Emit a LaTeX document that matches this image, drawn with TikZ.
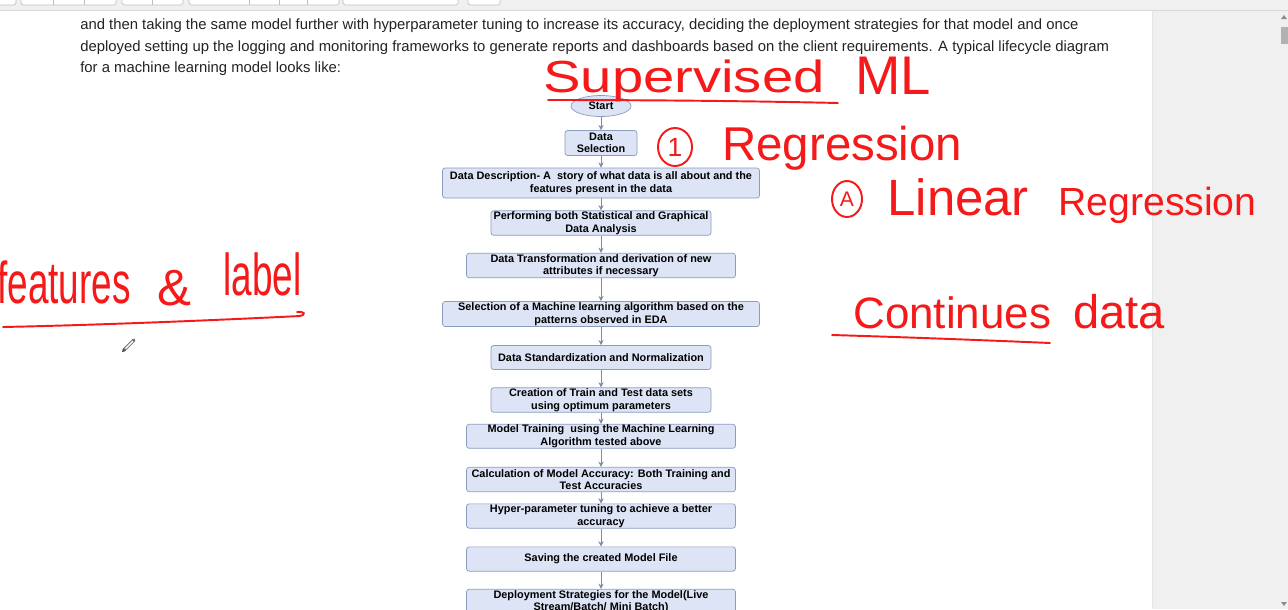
\documentclass[tikz,border=0pt]{standalone}
\usepackage{fontspec}
\setmainfont{Liberation Sans}
\usetikzlibrary{arrows.meta,shapes.geometric}

\definecolor{boxfill}{RGB}{220,228,246}
\definecolor{boxline}{RGB}{140,156,192}
\definecolor{flowarrow}{RGB}{125,138,168}
\definecolor{ink}{RGB}{245,25,25}
\definecolor{panelgrey}{RGB}{240,240,240}
\definecolor{bodytext}{RGB}{35,35,35}

\newlength{\unitpx}
\setlength{\unitpx}{0.02cm}

\tikzset{
  stepbox/.style={draw=boxline, fill=boxfill, rounded corners=1.5pt, align=center,
    inner sep=0pt, line width=0.4pt, font=\bfseries\fontsize{6.2pt}{7.1pt}\selectfont},
  flow/.style={draw=flowarrow, line width=0.4pt, -{Stealth[length=3pt,width=3pt]}},
  inkword/.style={text=ink, inner sep=0pt, anchor=base west},
  inkline/.style={draw=ink, line width=1.1pt, line cap=round},
  inkring/.style={draw=ink, ellipse, line width=1.1pt, inner sep=0pt, text=ink},
  bodyline/.style={anchor=base west, inner sep=0pt, text=bodytext,
    font=\fontsize{8.45pt}{8.45pt}\selectfont},
  toolbtn/.style={draw=black!25, fill=white, rounded corners=1pt, line width=0.4pt},
}

\begin{document}
\begin{tikzpicture}[x=0.02cm, y=-0.02cm]
    \useasboundingbox (0,0) rectangle (1288,609);
    \clip (0,0) rectangle (1288,609);
    % page background
    \fill[white] (0,0) rectangle (1288,609);
    % toolbar strip at the top
    \fill[panelgrey] (0,0) rectangle (1288,10);
    \draw[black!15] (0,10.5) -- (1288,10.5);
    \draw[toolbtn] (-4,-4) rectangle (16,5);
    \draw[toolbtn] (21,-4) rectangle (116,5);
    \draw[black!25] (53,-4) -- (53,5) (84,-4) -- (84,5);
    \draw[toolbtn] (122,-4) rectangle (183,5);
    \draw[black!25] (152,-4) -- (152,5);
    \draw[toolbtn] (189,-4) rectangle (339,5);
    \draw[black!25] (249,-4) -- (249,5) (279,-4) -- (279,5) (307,-4) -- (307,5);
    \draw[toolbtn] (343,-4) rectangle (458,5);
    \draw[toolbtn] (468,-4) rectangle (500,5);
    % grey side panel with scroll bar
    \fill[panelgrey] (1152,11) rectangle (1288,609);
    \draw[black!10] (1152,11) -- (1152,609);
    \fill[black!30] (1281,27) rectangle (1288,44);
    \fill[black!45] (1281,19) -- (1287,19) -- (1284,15) -- cycle;
    \fill[black!45] (1281,602) -- (1287,602) -- (1284,606) -- cycle;

    % body text of the page
    \node[bodyline] (lineb) at (80,29.5) {and then taking the same model further with hyperparameter tuning to increase its accuracy, deciding the deployment strategies for that model and once};
    \node[bodyline] (linec) at (80,51) {deployed setting up the logging and monitoring frameworks to generate reports and dashboards based on the client requirements. A typical lifecycle diagram};
    \node[bodyline] (lined) at (80,72.5) {for a machine learning model looks like:};

    % lifecycle flow chart
    \node[stepbox, ellipse, minimum width=60\unitpx, minimum height=21\unitpx] (start) at (601,106) {Start};
    \node[stepbox, minimum width=72\unitpx, minimum height=25\unitpx] (dsel) at (601,143) {Data\\Selection};
    \node[stepbox, minimum width=317\unitpx, minimum height=30\unitpx] (ddesc) at (601,183) {Data Description- A~ story of what data is all about and the\\features present in the data};
    \node[stepbox, minimum width=220\unitpx, minimum height=24.5\unitpx] (eda) at (601,223) {Performing both Statistical and Graphical\\Data Analysis};
    \node[stepbox, minimum width=269\unitpx, minimum height=24.5\unitpx] (dtrans) at (601,265.5) {Data Transformation and derivation of new\\attributes if necessary};
    \node[stepbox, minimum width=317\unitpx, minimum height=25\unitpx] (algo) at (601,314) {Selection of a Machine learning algorithm based on the\\patterns observed in EDA};
    \node[stepbox, minimum width=220\unitpx, minimum height=24\unitpx] (stdz) at (601,357.5) {Data Standardization and Normalization};
    \node[stepbox, minimum width=220\unitpx, minimum height=24.5\unitpx] (split) at (601,400) {Creation of Train and Test data sets\\using optimum parameters};
    \node[stepbox, minimum width=269\unitpx, minimum height=24\unitpx] (train) at (601,436.3) {Model Training~ using the Machine Learning\\Algorithm tested above};
    \node[stepbox, minimum width=269\unitpx, minimum height=24.4\unitpx] (acc) at (601,479.5) {Calculation of Model Accuracy: Both Training and\\Test Accuracies};
    \node[stepbox, minimum width=269\unitpx, minimum height=24.3\unitpx] (tune) at (601,516) {Hyper-parameter tuning to achieve a better\\accuracy};
    \node[stepbox, minimum width=269\unitpx, minimum height=24.3\unitpx] (save) at (601,559) {Saving the created Model File};
    \node[stepbox, minimum width=269\unitpx, minimum height=24.5\unitpx] (deploy) at (601,601.5) {Deployment Strategies for the Model(Live\\Stream/Batch/ Mini Batch)};
    \foreach \a/\b in {start/dsel, dsel/ddesc, ddesc/eda, eda/dtrans, dtrans/algo, algo/stdz,
        stdz/split, split/train, train/acc, acc/tune, tune/save, save/deploy}
      \draw[flow] (\a) -- (\b);

    % red handwritten notes
    \node[inkword, font=\fontsize{32pt}{32pt}\selectfont] (superv) at (543,92) {\scalebox{1}[0.8]{Supervised}};
    \node[inkword, font=\fontsize{31pt}{31pt}\selectfont] (ml) at (855,94) {ML};
    \draw[inkline] (548,100) .. controls (650,100) and (750,101) .. (838,103);
    \node[inkring, minimum width=34\unitpx, minimum height=38\unitpx, font=\fontsize{15pt}{15pt}\selectfont] (one) at (675,147) {1};
    \node[inkword, font=\fontsize{27pt}{27pt}\selectfont] (regr) at (722,160) {Regression};
    \node[inkring, minimum width=30\unitpx, minimum height=36\unitpx, font=\fontsize{12pt}{12pt}\selectfont] (alpha) at (847,199) {A};
    \node[inkword, font=\fontsize{29pt}{29pt}\selectfont] (linear) at (887,215) {Linear};
    \node[inkword, font=\fontsize{22.3pt}{22.3pt}\selectfont] (linregr) at (1058,215) {Regression};
    \node[inkword, font=\fontsize{25pt}{25pt}\selectfont] (contin) at (853,328) {Continues};
    \node[inkword, font=\fontsize{26.8pt}{26.8pt}\selectfont] (cdata) at (1073,328) {data};
    \draw[inkline] (832,335) .. controls (900,337) and (980,340) .. (1050,343);
    \node[inkword, font=\fontsize{21pt}{21pt}\selectfont] (feat) at (-3,303) {\scalebox{1}[1.6]{features}};
    \node[inkword, font=\fontsize{29pt}{29pt}\selectfont] (amp) at (157,305) {\&};
    \node[inkword, font=\fontsize{21pt}{21pt}\selectfont] (label) at (223,295) {\scalebox{1}[1.6]{label}};
    \draw[inkline] (3,327) .. controls (100,325) and (220,320) .. (300,316)
      .. controls (306,315) and (305,311) .. (297,312);

    % pencil cursor
    \draw[black!55, line width=2pt, line cap=round] (124,350) -- (134,340);
    \draw[white, line width=0.8pt] (125.5,348.5) -- (133,341);
    \fill[black!70] (122,352) -- (123,348.5) -- (125.5,351) -- cycle;
\end{tikzpicture}
\end{document}
